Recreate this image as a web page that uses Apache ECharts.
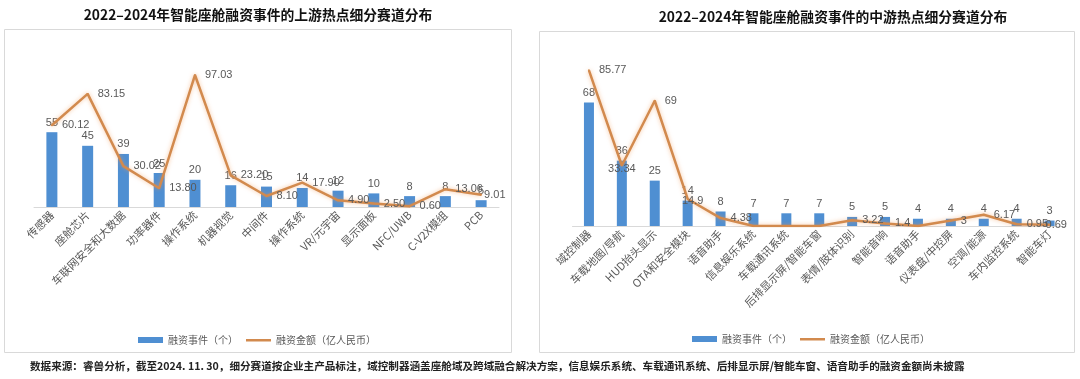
<!DOCTYPE html>
<html><head><meta charset="utf-8">
<script src="https://cdn.jsdelivr.net/npm/echarts@6/dist/echarts.min.js"></script>
<style>html,body{margin:0;padding:0;background:#fff;}#c{width:1080px;height:379px;}</style>
</head><body><div id="c"></div>
<script>
const upCategories = ['传感器','座舱芯片','车联网安全和大数据','功率器件','操作系统','机器视觉','中间件','操作系统','VR/元宇宙','显示面板','NFC/UWB','C-V2X模组','PCB'];
const upEvents = [55,45,39,25,20,16,15,14,12,10,8,8,5];
const upAmounts = [60.12,83.15,30.02,13.80,97.03,23.20,8.10,17.90,4.90,2.50,0.60,13.06,9.01];

const midCategories = ['域控制器','车载地图/导航','HUD抬头显示','OTA和安全模块','语音助手','信息娱乐系统','车载通讯系统','后排显示屏/智能车窗','表情/肢体识别','智能音响','语音助手','仪表盘/中控屏','空调/能源','车内监控系统','智能车灯'];
const midEvents = [68,36,25,14,8,7,7,7,5,5,4,4,4,4,3];
// null = amount not disclosed (drawn at baseline, no label)
const midAmounts = [85.77,33.34,69,14.9,4.38,null,null,null,3.22,1.4,null,3,6.17,0.95,0.69];

const titles = ['2022–2024年智能座舱融资事件的上游热点细分赛道分布','2022–2024年智能座舱融资事件的中游热点细分赛道分布'];
const legendNames = ['融资事件（个）','融资金额（亿人民币）'];
const footnote = '数据来源：睿兽分析，截至2024. 11. 30，细分赛道按企业主产品标注，域控制器涵盖座舱域及跨域融合解决方案，信息娱乐系统、车载通讯系统、后排显示屏/智能车窗、语音助手的融资金额尚未披露';

const CJK = '"Noto Sans CJK SC", sans-serif';
const NUM = '"Liberation Sans", "Noto Sans CJK SC", sans-serif';
const BAR = '#4F8FD2';
const LINE = '#D28A4E';
const GRAY = '#595959';
const LINE_ICON = 'path://M0,0 L0,0 Z M0,2 L25,2 L25,4.5 L0,4.5 Z M0,6 L0,6 Z';

const chart = echarts.init(document.getElementById('c'), null, {renderer:'canvas'});

function xAxis(idx, cats){
  return {type:'category', gridIndex:idx, data:cats,
    axisLine:{lineStyle:{color:'#D9D9D9'}}, axisTick:{show:false},
    axisLabel:{rotate:45, interval:0, color:GRAY, fontSize:11, fontFamily:CJK, margin:6}};
}
function yAxis(idx){
  return {type:'value', gridIndex:idx, min:0, max:100, show:false, splitLine:{show:false}};
}
const lineStyleBase = {color:LINE, width:2.5, shadowColor:'rgba(240,150,80,0.55)', shadowBlur:4};

// label placement tweaks (by index) to follow the source chart's label layout
function lineData(values, labelTweaks){
  return values.map((v, i) => {
    if (v === null) return {value:0, label:{show:false}};
    if (labelTweaks[i]) return {value:v, label:labelTweaks[i]};
    return v;
  });
}
const upTweaks = {12:{offset:[-7,0]}};
const midTweaks = {1:{position:'inside', offset:[0,3]}, 3:{position:'inside', offset:[5,2]}, 14:{offset:[-14,0]}};

function legend(left, top){
  return {left:left, top:top, itemWidth:25, itemHeight:6, itemGap:8,
    textStyle:{color:GRAY, fontSize:10, fontFamily:CJK},
    data:[{name:legendNames[0], icon:'rect'}, {name:legendNames[1], icon:LINE_ICON}]};
}

chart.setOption({
  animation:false,
  textStyle:{fontFamily:CJK},
  grid:[
    {left:34, top:71, width:465, height:136},
    {left:572.5, top:44.5, width:493.5, height:181.5}
  ],
  xAxis:[xAxis(0, upCategories), xAxis(1, midCategories)],
  yAxis:[yAxis(0), yAxis(1)],
  legend:[legend(133, 330), legend(687, 329)],
  series:[
    {name:legendNames[0], type:'bar', xAxisIndex:0, yAxisIndex:0, data:upEvents, barWidth:11,
     itemStyle:{color:BAR},
     label:{show:true, position:'top', distance:4, color:GRAY, fontSize:11, fontFamily:NUM}},
    {name:legendNames[1], type:'line', xAxisIndex:0, yAxisIndex:0, data:lineData(upAmounts, upTweaks),
     symbol:'circle', symbolSize:2, showSymbol:true, lineStyle:lineStyleBase, itemStyle:{color:LINE}, z:3,
     label:{show:true, position:'right', distance:9, color:GRAY, fontSize:11, fontFamily:NUM,
       formatter:p => Number(p.value).toFixed(2)}},
    {name:legendNames[0], type:'bar', xAxisIndex:1, yAxisIndex:1, data:midEvents, barWidth:10,
     itemStyle:{color:BAR},
     label:{show:true, position:'top', distance:4, color:GRAY, fontSize:11, fontFamily:NUM}},
    {name:legendNames[1], type:'line', xAxisIndex:1, yAxisIndex:1, data:lineData(midAmounts, midTweaks),
     symbol:'circle', symbolSize:2, showSymbol:true, lineStyle:lineStyleBase, itemStyle:{color:LINE}, z:3,
     label:{show:true, position:'right', distance:9, color:GRAY, fontSize:11, fontFamily:NUM}}
  ],
  graphic:[
    {type:'rect', shape:{x:4.5, y:29.5, width:507, height:323}, style:{fill:'none', stroke:'#D9D9D9', lineWidth:1}, z:-1},
    {type:'rect', shape:{x:539.5, y:31.5, width:535, height:321}, style:{fill:'none', stroke:'#D9D9D9', lineWidth:1}, z:-1},
    {type:'text', x:258, y:15, style:{text:titles[0], fill:'#111', font:'bold 13.8px "Noto Sans CJK SC"', textAlign:'center', textVerticalAlign:'middle'}},
    {type:'text', x:833, y:17, style:{text:titles[1], fill:'#111', font:'bold 13.8px "Noto Sans CJK SC"', textAlign:'center', textVerticalAlign:'middle'}},
    {type:'text', x:30, y:366, style:{text:footnote, fill:'#222', font:'bold 10.6px "Noto Sans CJK SC"', textAlign:'left', textVerticalAlign:'middle'}}
  ]
});
</script></body></html>
